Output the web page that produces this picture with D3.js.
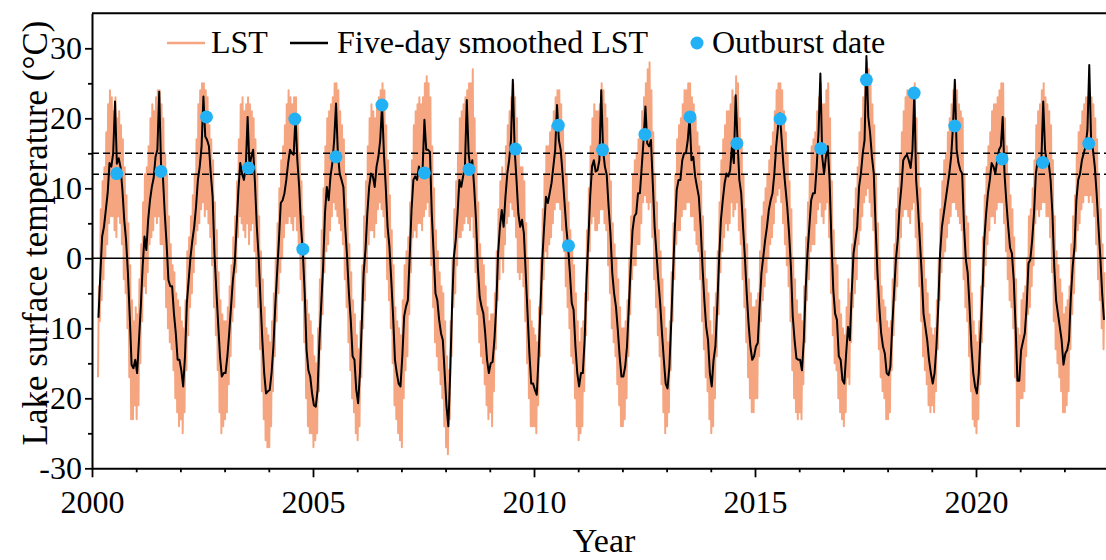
<!DOCTYPE html>
<html>
<head>
<meta charset="utf-8">
<script src="https://cdn.jsdelivr.net/npm/d3@7"></script>
<style>
  body { margin: 0; background: #fff; }
  text { font-family: "Liberation Serif", "Times New Roman", serif; fill: #000; }
</style>
</head>
<body>
<div id="chart"></div>
<script>
// half-month steps, 24 per year, first step centred on 2000 + 0.5/24
const startYear = 2000;
const stepsPerYear = 24;

// Five-day smoothed LST (°C), one row per year
const smoothLST = [
  null,null,null,-8.5,-2.5,3.1,4.5,6.9,9.3,13.6,13.1,15,22.4,13.5,14.3,13,9.8,5.5,2.6,-2.1,-8.3,-15.2,-15.7,-14.5, // 2000
  -16.4,-11.7,-6.9,-1.2,3.1,1.2,5.5,8.3,10.2,11.5,14.5,15.5,23.8,13.1,11.7,6.4,2.1,-3.1,-4,-4,-7.9,-10.7,-14.5,-14.5, // 2001
  -16,-18.3,-14,-6.4,-3.1,0.2,2.6,4.5,7.4,11.2,13.1,16,23.1,17.4,16.9,16,12.1,8.8,0.7,-4.5,-9.3,-14,-16.9,-16.4, // 2002
  -16.4,-14,-10.7,-6.9,-3.1,-0.7,4.5,9.8,13.6,12.1,11.2,13.1,20.2,13.1,14.5,15.5,10.7,4.5,0.2,-6,-11.7,-16.4,-19.3,-19, // 2003
  -18.8,-16.4,-12.6,-6.9,-2.1,2.6,7.9,8.3,9.3,11.2,13.6,15.5,15,14.8,20.2,14,10.2,4.5,0.7,-5,-13.1,-16,-16.9,-19.3, // 2004
  -21,-21.2,-18.8,-11.7,-6.4,-1.2,6.4,10.2,8.3,11.7,13.6,16.9,22.1,15,12.1,11.2,10.2,4.5,0.2,-5,-8.8,-14,-14.5,-18.8, // 2005
  -20.7,-16.4,-9.3,-2.1,1.2,6.4,10.2,12.1,11.7,10.2,13.1,14.5,16.9,21.9,15,10.2,4.5,1.7,-3.1,-8.3,-14.5,-16.4,-17.9,-18.3, // 2006
  -14,-8.3,-6.9,-6,0.2,6.9,11.2,11.7,11.2,13.1,12.1,12.6,19.8,15.5,15.5,15.2,6.4,0.7,-5,-6,-8.8,-10.7,-11.7,-16.4, // 2007
  -21.2,-24,-16.4,-6.9,0.2,2.6,6.4,11.2,10.2,11.7,13.1,22.6,15,12.6,14,10.2,5.5,-1.2,-5.5,-6.9,-7.9,-10.7,-14.5,-16.4, // 2008
  -15,-14.8,-11.7,-6.9,0.7,4.5,6.9,4.5,8.8,12.1,14,16.9,25.5,15.5,11.2,6.4,4.5,5.5,3.6,-2.1,-7.9,-13.6,-17.9,-17.9, // 2009
  -18.8,-19.5,-14,-6.9,-0.2,4.5,8.8,7.9,9.3,10.7,13.1,15.5,21.9,16.9,15.5,12.1,8.3,4.5,1.7,-2.1,-6.4,-7.4,-12.6,-16.4, // 2010
  -18.3,-16.4,-16.4,-11.7,-3.1,2.6,8.8,13.1,14,12.4,12.6,14,24,15.5,13.1,11.9,7.4,3.6,-2.1,-5,-6.9,-10.2,-14,-16.9, // 2011
  -16.9,-15.5,-12.6,-6.9,-1.2,4,6,6.4,9.3,9.3,13.1,16.9,21.7,16.4,16,16.9,10.7,4.5,0.7,-3.1,-6.4,-10.7,-14.5,-17.9, // 2012
  -18.6,-15.5,-9.3,-2.1,4.5,9.8,11.2,11.2,14,15,15,16.9,20.2,14,14.5,11.7,10.2,8.8,4.5,-1.2,-6,-9.8,-11.7,-16.4, // 2013
  -18.3,-14.5,-12.6,-6.9,-0.2,5.5,8.3,10.7,12.1,11.7,12.6,16,13.6,23.3,16.9,11.2,9.3,4.5,0.2,-5,-9.3,-12.6,-14.5,-14, // 2014
  -12.6,-12.1,-6.9,-2.1,0.2,2.6,4.5,6.9,8.3,9.3,12.1,16,18.8,20.7,16.9,13.1,10.2,7.4,3.6,-1.2,-8.3,-11.7,-14.3,-14.5, // 2015
  -14.5,-16,-11.7,-4.5,0.7,4.5,8.3,9.3,9.3,13.1,18,26.4,14.5,12.1,14.5,16,11.2,2.6,-4.5,-7.9,-8.8,-14,-14.5,-17.4, // 2016
  -17.9,-13.6,-9.8,-11.7,-5,0.7,2.6,4.5,10.2,12.1,15,16.9,28.9,20.2,17.9,14.5,12.1,4.5,-2.1,-6.9,-10.7,-12.6,-13.6,-16.4, // 2017
  -16.7,-15.5,-9.8,-5,-0.2,2.6,7.4,10.2,14,14.5,14.8,14,12.9,15.5,23.6,11.2,7.4,2.6,-2.1,-7.9,-9.8,-11.7,-14.5,-16.4, // 2018
  -17.9,-16.4,-12.6,-6.9,0.7,4.5,6.4,8.3,10.2,12.1,14.5,18.8,25.5,15.5,13.6,12.6,12.1,4.5,-0.2,-2.1,-6.9,-12.6,-16.4,-18.3, // 2019
  -19.3,-16.4,-10.7,-5,2.6,6.4,9.3,11.2,13.6,13.1,12.1,14,15.5,16,20.2,12,8,4.5,1.5,0.7,-3.1,-9.8,-17.5,-17.5, // 2020
  -13.1,-11.9,-10.7,-6.9,-0.7,-0.2,2.6,6.4,12.1,14,13.3,14,22.4,15.5,13.6,13.6,11.2,6.4,-1.2,-6,-7.9,-9.8,-11.7,-15.2, // 2021
  -13.6,-13.1,-11.7,-5.5,-1.2,1.7,8.3,11.2,12.1,14,15,16,18.3,27.6,16.9,15.5,13.1,9.3,4.5,0.2,-5,-8.8,null,null // 2022
];

// LST: highest and lowest daily value inside each half-month step
const lstHigh = [
  null,null,null,-4,7,11,13,18,22,24,23,21,23,20,21,19,17,13,9,5,-1,-6,-9,-7, // 2000
  -8,-3,2,8,12,13,16,20,22,21,23,24,24,22,20,15,12,6,2,-1,-2,-5,-6,-7, // 2001
  -9,-10,-6,1,3,6,9,12,17,22,24,25,25,24,23,19,17,14,8,4,-2,-6,-8,-9, // 2002
  -9,-7,-4,-1,3,6,11,17,22,23,21,22,23,22,21,20,17,12,6,1,-3,-7,-10,-11, // 2003
  -12,-9,-5,0,5,10,14,16,19,22,24,23,22,23,23,20,15,11,6,0,-6,-8,-9,-11, // 2004
  -14,-15,-10,-3,4,10,16,20,21,22,23,25,25,24,21,19,17,12,7,2,-2,-6,-8,-11, // 2005
  -13,-9,-1,6,11,16,20,22,21,20,22,23,24,25,24,19,14,9,4,-1,-7,-9,-10,-11, // 2006
  -6,-1,1,3,8,14,19,21,22,23,22,23,25,26,25,23,16,10,4,1,-2,-4,-5,-9, // 2007
  -14,-16,-9,0,7,11,15,20,21,22,23,24,25,25,27,20,15,8,2,0,-1,-4,-7,-9, // 2008
  -8,-8,-5,1,7,11,13,12,16,19,21,23,25,23,20,15,13,13,11,5,0,-6,-9,-10, // 2009
  -11,-12,-7,0,7,12,16,16,18,19,21,23,24,24,22,19,15,12,8,4,1,-1,-5,-9, // 2010
  -12,-10,-9,-5,4,10,16,20,22,21,21,22,25,24,22,20,15,11,5,2,0,-3,-7,-10, // 2011
  -10,-9,-6,0,6,12,14,15,17,18,21,23,25,27,28,24,18,12,8,4,1,-3,-7,-10, // 2012
  -12,-9,-2,5,12,17,19,20,22,24,24,25,25,23,22,20,18,16,11,6,1,-3,-5,-9, // 2013
  -11,-7,-5,1,8,14,17,19,21,21,22,24,23,26,25,20,17,12,7,2,-3,-5,-7,-7, // 2014
  -6,-5,1,6,8,10,12,14,16,18,21,24,25,25,24,21,18,15,11,7,0,-3,-6,-8, // 2015
  -8,-9,-4,3,8,12,16,17,18,21,23,25,22,22,24,25,20,11,4,0,-1,-6,-8,-10, // 2016
  -11,-7,-3,-5,2,7,10,13,18,20,23,25,28,27,25,22,19,12,5,0,-4,-6,-7,-9, // 2017
  -10,-9,-3,2,7,10,15,18,21,23,24,24,23,24,25,20,15,10,5,0,-3,-5,-8,-10, // 2018
  -11,-10,-6,0,7,11,14,15,18,20,22,24,25,24,22,21,20,12,6,5,0,-5,-9,-11, // 2019
  -12,-9,-4,3,9,13,16,18,21,22,22,23,24,25,25,20,16,12,9,7,3,-3,-10,-11, // 2020
  -6,-5,-4,0,6,7,10,14,19,21,22,24,25,23,22,21,19,14,6,1,-1,-3,-5,-8, // 2021
  -7,-6,-4,2,6,9,15,18,19,21,22,23,23,23,23,22,20,17,12,7,2,-2,null,null // 2022
];
const lstLow = [
  null,null,null,-17,-9,-6,-3,0,2,5,6,6,4,3,6,5,2,-3,-5,-10,-17,-23,-23,-21, // 2000
  -23,-21,-15,-9,-4,-5,-2,2,3,4,6,5,6,2,2,-3,-7,-10,-12,-13,-16,-20,-22,-24, // 2001
  -23,-25,-22,-16,-11,-7,-5,-2,2,4,5,7,8,6,7,5,3,-1,-7,-11,-16,-22,-25,-24, // 2002
  -23,-22,-18,-14,-9,-7,-2,3,6,5,4,3,5,2,4,5,1,-4,-7,-13,-19,-23,-26,-27, // 2003
  -27,-24,-19,-14,-9,-5,-2,0,3,5,5,6,5,4,6,4,1,-3,-6,-12,-20,-24,-25,-25, // 2004
  -27,-26,-25,-19,-13,-8,-2,1,2,4,6,8,7,6,5,4,2,-3,-7,-12,-16,-20,-22,-25, // 2005
  -26,-24,-17,-10,-6,-2,2,4,4,3,5,7,8,7,6,3,-3,-6,-10,-15,-21,-23,-25,-26, // 2006
  -27,-20,-16,-14,-8,-2,3,4,3,5,5,4,6,7,8,6,-1,-7,-12,-14,-16,-18,-20,-24, // 2007
  -27,-28,-23,-14,-7,-5,-1,3,3,4,5,6,5,4,6,3,-2,-8,-12,-14,-15,-18,-21,-23, // 2008
  -22,-24,-19,-13,-6,-3,0,-2,2,5,6,8,7,6,3,-2,-3,-2,-4,-9,-15,-20,-24,-24, // 2009
  -24,-25,-21,-14,-8,-3,1,0,2,3,5,7,8,8,7,4,1,-4,-7,-10,-14,-15,-20,-24, // 2010
  -26,-25,-24,-19,-11,-6,1,5,6,4,4,5,7,7,5,4,-1,-5,-10,-12,-14,-18,-21,-24, // 2011
  -24,-23,-20,-14,-8,-3,-1,-1,2,2,5,8,9,8,7,8,3,-3,-7,-11,-14,-18,-22,-25, // 2012
  -24,-22,-16,-9,-3,2,4,4,6,7,7,8,8,6,6,4,2,1,-3,-9,-13,-17,-19,-23, // 2013
  -25,-24,-20,-14,-8,-2,1,3,5,4,5,8,6,7,8,4,2,-3,-7,-12,-17,-20,-22,-22, // 2014
  -20,-20,-14,-9,-6,-4,-2,0,2,3,5,8,9,10,8,5,2,-1,-4,-9,-16,-20,-22,-23, // 2015
  -22,-23,-18,-12,-6,-3,1,2,2,5,7,8,6,5,7,8,3,-5,-11,-15,-16,-20,-22,-23, // 2016
  -24,-22,-17,-18,-12,-7,-5,-3,2,4,6,8,9,10,8,6,4,-3,-9,-13,-17,-19,-20,-23, // 2017
  -23,-22,-16,-11,-6,-4,0,3,6,7,7,6,5,7,8,3,0,-4,-9,-14,-16,-18,-21,-22, // 2018
  -21,-22,-19,-13,-6,-2,0,1,3,5,6,8,8,7,6,5,4,-3,-7,-9,-14,-19,-23,-24, // 2019
  -25,-23,-18,-12,-4,-1,2,4,6,6,5,7,8,8,8,5,1,-3,-6,-7,-10,-17,-24,-24, // 2020
  -20,-20,-19,-14,-8,-7,-4,-1,5,7,6,7,8,8,6,6,3,-2,-9,-13,-15,-17,-19,-22, // 2021
  -22,-21,-19,-13,-8,-5,1,4,5,7,8,9,9,8,9,8,6,2,-3,-6,-10,-13,null,null // 2022
];

// Outburst dates (decimal year) and the LST on that date
const outburstTime = [2000.56, 2001.56, 2002.59, 2003.54, 2004.59, 2004.77, 2005.52, 2006.56,
  2007.52, 2008.53, 2009.58, 2010.55, 2010.78, 2011.55, 2012.51, 2013.53, 2014.59, 2015.57,
  2016.49, 2017.52, 2018.6, 2019.52, 2020.59, 2021.51, 2022.55];
const outburstTemp = [12.1, 12.4, 20.2, 12.9, 19.9, 1.3, 14.5, 21.9, 12.2, 12.7, 15.6, 19, 1.8,
  15.5, 17.7, 20.2, 16.4, 19.9, 15.7, 25.5, 23.6, 18.9, 14.2, 13.7, 16.4];

const xMajorTicks = [2000, 2005, 2010, 2015, 2020];
const yMajorTicks = [-30, -20, -10, 0, 10, 20, 30];
const dashedLevels = [15, 12];

// Set the dimensions and margins of the graph
const W = 1106, H = 560;
const margin = { top: 13.3, left: 92, bottom: 91.7 };
const innerW = 44.2 * 23;            // 2000..2023, right edge falls just outside the picture
const innerH = H - margin.top - margin.bottom;
const serif = '"Liberation Serif", "Times New Roman", serif';

const svg = d3.select("#chart").append("svg")
  .attr("width", W).attr("height", H);
const g = svg.append("g").attr("transform", `translate(${margin.left},${margin.top})`);

const x = d3.scaleLinear().domain([2000, 2023]).range([0, innerW]);
const y = d3.scaleLinear().domain([-30, 35]).range([innerH, 0]);

g.append("clipPath").attr("id", "plotClip")
  .append("rect").attr("width", innerW).attr("height", innerH);

const timeOf = i => startYear + (i + 0.5) / stepsPerYear;

// LST line: goes down to the low and up to the high of every step
const lstPoints = [];
lstHigh.forEach((hi, i) => {
  if (hi == null) return;
  lstPoints.push({ t: timeOf(i) - 1 / 96, v: lstLow[i] });
  lstPoints.push({ t: timeOf(i) + 1 / 96, v: hi });
});
const smoothPoints = smoothLST.map((v, i) => ({ t: timeOf(i), v: v }));

const line = d3.line()
  .defined(d => d.v != null)
  .x(d => x(d.t))
  .y(d => y(d.v));

const plot = g.append("g").attr("clip-path", "url(#plotClip)");

plot.append("path")
  .datum(lstPoints)
  .attr("fill", "none")
  .attr("stroke", "#f5a680")
  .attr("stroke-width", 2)
  .attr("stroke-linejoin", "round")
  .attr("d", line);

// zero line and the two dashed levels
plot.append("line")
  .attr("x1", 0).attr("x2", innerW)
  .attr("y1", y(0)).attr("y2", y(0))
  .attr("stroke", "#000").attr("stroke-width", 1.6);

plot.selectAll(".level")
  .data(dashedLevels)
  .join("line")
  .attr("class", "level")
  .attr("x1", 0).attr("x2", innerW)
  .attr("y1", d => y(d)).attr("y2", d => y(d))
  .attr("stroke", "#000").attr("stroke-width", 1.6)
  .attr("stroke-dasharray", "7,4");

plot.append("path")
  .datum(smoothPoints)
  .attr("fill", "none")
  .attr("stroke", "#000")
  .attr("stroke-width", 2)
  .attr("stroke-linejoin", "round")
  .attr("d", line);

plot.selectAll(".outburst")
  .data(outburstTime)
  .join("circle")
  .attr("class", "outburst")
  .attr("cx", d => x(d))
  .attr("cy", (d, i) => y(outburstTemp[i]))
  .attr("r", 6.5)
  .attr("fill", "#22b1f4");

// Axes (plain hyphen for negative labels, like the original)
const fontSize = 32;
const xMinor = d3.range(2000, 2024).filter(d => !xMajorTicks.includes(d));
g.append("g")
  .attr("transform", `translate(0,${innerH})`)
  .call(d3.axisBottom(x).tickValues(xMinor).tickSize(4).tickFormat("").tickSizeOuter(0))
  .call(a => a.select(".domain").remove());
g.append("g")
  .attr("transform", `translate(0,${innerH})`)
  .call(d3.axisBottom(x).tickValues(xMajorTicks).tickSize(9).tickPadding(13)
    .tickFormat(d => String(d)).tickSizeOuter(0));

const yMinor = [-25, -15, -5, 5, 15, 25];
g.append("g")
  .call(d3.axisLeft(y).tickValues(yMinor).tickSize(4).tickFormat("").tickSizeOuter(0))
  .call(a => a.select(".domain").remove());
g.append("g")
  .call(d3.axisLeft(y).tickValues(yMajorTicks).tickSize(7).tickPadding(3)
    .tickFormat(d => String(d)).tickSizeOuter(0));

g.selectAll(".tick line").attr("stroke", "#000").attr("stroke-width", 1.8);
g.selectAll(".domain").attr("stroke", "#000").attr("stroke-width", 2);
g.selectAll("g[font-family]").attr("font-family", serif).attr("font-size", fontSize);
g.selectAll(".tick text")
  .style("font-family", serif)
  .style("font-size", fontSize + "px")
  .attr("fill", "#000");

// top frame line
g.append("line")
  .attr("x1", 0).attr("x2", innerW)
  .attr("y1", 0).attr("y2", 0)
  .attr("stroke", "#000").attr("stroke-width", 2);

// Axis titles
svg.append("text")
  .attr("x", 604).attr("y", 552)
  .attr("text-anchor", "middle")
  .style("font-size", "34px")
  .text("Year");

svg.append("text")
  .attr("transform", "translate(47,233) rotate(-90)")
  .attr("text-anchor", "middle")
  .style("font-size", "35px")
  .text("Lake surface temperature (°C)");

// Legend
const legend = svg.append("g").attr("class", "legend");
legend.append("line")
  .attr("x1", 167).attr("x2", 205).attr("y1", 43).attr("y2", 43)
  .attr("stroke", "#f5a680").attr("stroke-width", 2.5);
legend.append("text").attr("x", 211).attr("y", 53)
  .style("font-size", fontSize + "px").text("LST");
legend.append("line")
  .attr("x1", 290).attr("x2", 328).attr("y1", 43).attr("y2", 43)
  .attr("stroke", "#000").attr("stroke-width", 2.5);
legend.append("text").attr("x", 337).attr("y", 53)
  .style("font-size", fontSize + "px").text("Five-day smoothed LST");
legend.append("circle")
  .attr("cx", 697).attr("cy", 43).attr("r", 6.5)
  .attr("fill", "#22b1f4");
legend.append("text").attr("x", 712).attr("y", 53)
  .style("font-size", fontSize + "px").text("Outburst date");
</script>
</body>
</html>
